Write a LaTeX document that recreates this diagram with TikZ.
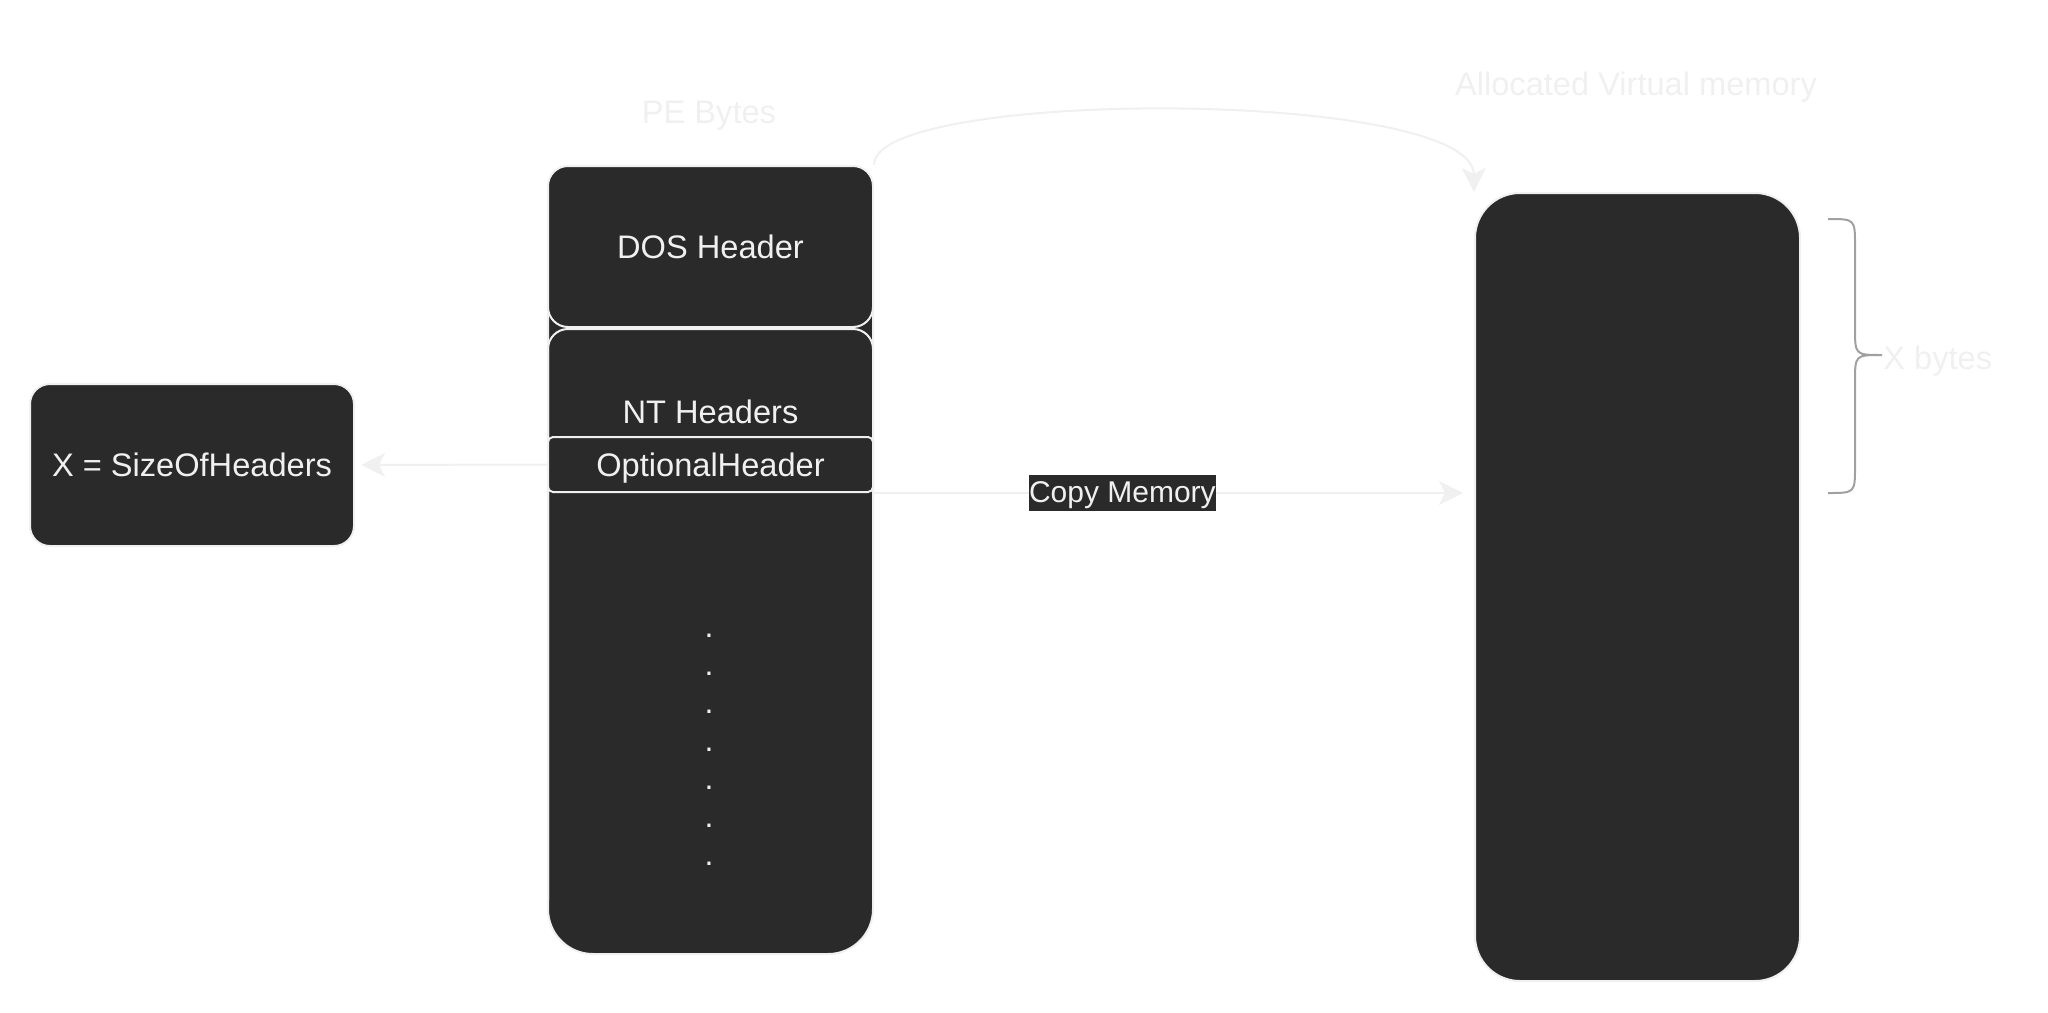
\documentclass[tikz,border=0pt]{standalone}
\usepackage{fontspec}
\setmainfont{Liberation Sans}
\usetikzlibrary{arrows.meta}
\definecolor{boxfill}{HTML}{2A2A2A}
\definecolor{light}{HTML}{F0F0F0}
\definecolor{bracegray}{HTML}{A0A0A0}
\begin{document}
\begin{tikzpicture}[x=0.5pt,y=-0.5pt,
  txt/.style={text=light, font=\fontsize{16.3}{19.6}\selectfont, text height=11.67pt, text depth=0pt, inner sep=0pt},
  box/.style={txt, draw=light, fill=boxfill, line width=1pt},
  faint/.style={txt},
  lbl/.style={fill=boxfill, text=light, font=\fontsize{15}{18}\selectfont, text height=10.74pt, text depth=1pt, inner xsep=0pt, inner ysep=3pt},
  arr/.style={draw=light, line width=1pt, -{Stealth[length=12pt,width=12pt,inset=3pt]}},
  dotmark/.style={text=light, font=\fontsize{16}{19.2}\selectfont, inner sep=0pt}
]
\useasboundingbox (0,0) rectangle (2048,1012);

% PE bytes column
\node[box, rounded corners=22.5pt, minimum width=162.5pt, minimum height=394pt] (pe) at (710.5,560) {};
\node[box, rounded corners=10pt, minimum width=162.5pt, minimum height=80.5pt] (dos) at (710.5,246.5) {DOS Header};
\draw[draw=light, line width=1pt, rounded corners=10pt] (548,900) -- (548,329) -- (873,329) -- (873,900);
\node[txt] (nt) at (710.5,412) {NT Headers};
\node[box, rounded corners=2.5pt, minimum width=162.5pt, minimum height=27.5pt] (opt) at (710.5,464.5) {OptionalHeader};
\foreach \i in {0,...,6} \node[dotmark] (dot\i) at (709,{636+38*\i}) {.};

% size of headers
\node[box, rounded corners=10pt, minimum width=162pt, minimum height=81pt] (xh) at (192,465) {X = SizeOfHeaders};

% allocated memory
\node[box, rounded corners=22.5pt, minimum width=162.5pt, minimum height=394pt] (rb) at (1637.5,587) {};

% labels
\node[faint] (pel) at (709,112) {PE Bytes};
\node[faint] (avm) at (1636,84) {Allocated Virtual memory};
\node[faint, anchor=west] (xb) at (1883,358) {X bytes};

% brace
\draw[draw=bracegray, line width=1pt]
  (1828,219) .. controls (1855,219) .. (1855,246) -- (1855,328)
  .. controls (1855,355) .. (1882,355)
  .. controls (1855,355) .. (1855,382) -- (1855,466)
  .. controls (1855,493) .. (1828,493);

% connectors
\draw[arr, shorten >=3pt] (opt.west) -- (xh.east);
\draw[arr, shorten >=5.5pt] (opt.south east) -- (opt.south east -| rb.west)
  node[lbl, pos=0.414] (cm) {Copy Memory};
\draw[arr] (dos.north east) .. controls (873,88) and (1473,88) .. (rb.north west);
\end{tikzpicture}
\end{document}
